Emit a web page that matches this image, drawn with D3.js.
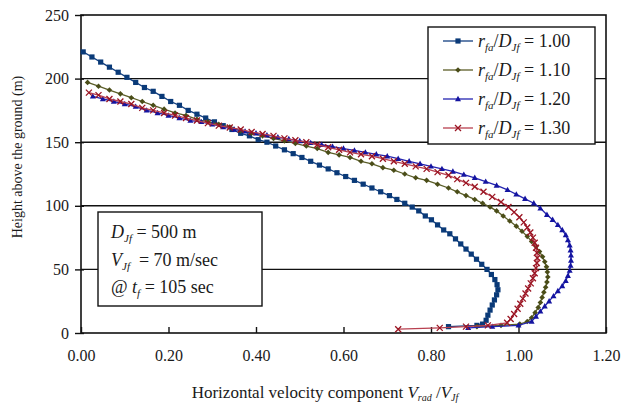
<!DOCTYPE html>
<html><head><meta charset="utf-8">
<script src="https://cdn.jsdelivr.net/npm/d3@7"></script>
<style>
html,body{margin:0;padding:0;background:#fff;}
svg text{font-family:"Liberation Serif","Times New Roman",serif;fill:#1a1a1a;}
</style></head>
<body><svg id="c" width="624" height="406"></svg>
<script>
// ---- data ----
const ratioLabels = ["1.00", "1.10", "1.20", "1.30"];
const s100 = [[0.005,221],[0.025,217],[0.045,213],[0.065,209],[0.085,205],[0.105,201],[0.125,197],[0.145,193],[0.165,190],[0.185,186],[0.205,182],[0.225,179],[0.245,175],[0.265,172],[0.285,169],[0.305,166],[0.325,163],[0.345,160],[0.365,157],[0.385,155],[0.405,152],[0.425,150],[0.445,147],[0.465,144],[0.485,141],[0.505,138],[0.525,135],[0.545,132],[0.565,129],[0.585,126],[0.605,123],[0.625,120],[0.645,117],[0.665,114],[0.685,111],[0.705,108],[0.722,105],[0.740,102],[0.757,99],[0.772,96],[0.787,92],[0.801,89],[0.815,85],[0.829,81],[0.843,78],[0.856,74],[0.868,70],[0.880,66],[0.892,62],[0.904,58],[0.916,54],[0.928,50],[0.938,46],[0.946,42],[0.951,38],[0.953,34],[0.950,30],[0.945,26],[0.940,22],[0.935,18],[0.930,14],[0.926,10],[0.918,7],[0.905,6],[0.84,5]];
const s110 = [[0.015,197],[0.04,194],[0.065,191],[0.09,188],[0.115,185],[0.14,182],[0.165,179],[0.19,176],[0.215,173],[0.24,171],[0.265,168],[0.29,166],[0.315,164],[0.34,162],[0.365,159],[0.39,157],[0.415,155],[0.44,153],[0.465,151],[0.49,149],[0.515,147],[0.54,145],[0.565,142],[0.59,140],[0.615,138],[0.64,135],[0.665,133],[0.69,130],[0.715,128],[0.74,125],[0.765,122],[0.79,120],[0.815,117],[0.84,114],[0.86,111],[0.88,108],[0.90,105],[0.918,102],[0.935,99],[0.95,96],[0.965,92],[0.98,88],[0.995,84],[1.008,80],[1.02,76],[1.03,72],[1.04,68],[1.048,64],[1.055,60],[1.06,56],[1.064,52],[1.066,48],[1.067,44],[1.065,40],[1.062,36],[1.058,32],[1.054,28],[1.05,24],[1.045,20],[1.038,16],[1.03,12],[1.02,9],[1.003,7],[0.96,6],[0.905,5]];
const s120 = [[0.027,186],[0.05,184],[0.075,182],[0.10,180],[0.125,178],[0.15,175],[0.175,173],[0.20,171],[0.225,169],[0.25,167],[0.275,166],[0.30,164],[0.325,162],[0.35,160],[0.375,158.5],[0.40,157],[0.425,155.5],[0.45,154],[0.475,152.5],[0.50,151],[0.525,149.5],[0.55,148],[0.575,146.5],[0.60,145],[0.625,143.5],[0.65,142],[0.675,140.5],[0.70,139],[0.725,137],[0.75,135],[0.775,133],[0.80,131],[0.825,129],[0.85,127],[0.875,124.5],[0.90,122],[0.925,119],[0.95,116],[0.975,112.5],[0.995,109],[1.015,105.5],[1.035,102],[1.05,98],[1.065,93],[1.078,89],[1.09,85],[1.10,81],[1.108,77],[1.113,73],[1.117,69],[1.119,65],[1.12,61],[1.12,57],[1.119,53],[1.117,49],[1.113,45],[1.108,41],[1.10,37],[1.09,33],[1.08,29],[1.07,25],[1.06,21],[1.05,17],[1.04,13],[1.03,9],[1.0,6],[0.94,5],[0.885,4]];
const s130 = [[0.018,189],[0.04,187],[0.065,184],[0.09,182],[0.115,180],[0.14,177],[0.165,175],[0.19,173],[0.215,171],[0.24,169],[0.265,167],[0.29,165],[0.315,163],[0.34,161.5],[0.365,160],[0.39,158],[0.415,156.5],[0.44,155],[0.465,153],[0.49,151.5],[0.515,150],[0.54,148],[0.565,146],[0.59,144],[0.615,142],[0.64,140.5],[0.665,139],[0.69,137],[0.715,135],[0.74,133],[0.765,131],[0.79,129],[0.815,126.5],[0.84,124],[0.86,121],[0.88,118],[0.90,115],[0.92,111],[0.94,107],[0.96,103],[0.977,99],[0.99,95],[1.002,91],[1.012,87],[1.02,83],[1.027,79],[1.033,75],[1.037,71],[1.04,67],[1.042,63],[1.043,59],[1.042,55],[1.04,51],[1.037,47],[1.033,43],[1.028,39],[1.022,35],[1.016,31],[1.01,27],[1.004,23],[0.998,19],[0.99,15],[0.982,11],[0.974,8],[0.93,6],[0.88,5],[0.82,4],[0.725,3]];
const xTicks = [0, 0.2, 0.4, 0.6, 0.8, 1.0, 1.2];
const yTicks = [0, 50, 100, 150, 200, 250];

const series = [
  {label: ratioLabels[0], data: s100, line: "#123f80", mark: "#0a3a78", shape: "square"},
  {label: ratioLabels[1], data: s110, line: "#5b5e28", mark: "#4a4d18", shape: "diamond"},
  {label: ratioLabels[2], data: s120, line: "#2424b0", mark: "#1414a0", shape: "triangle"},
  {label: ratioLabels[3], data: s130, line: "#b84050", mark: "#9a1422", shape: "cross"}
];

const svg = d3.select("#c");
const x = d3.scaleLinear().domain([0, 1.2]).range([81, 606]);
const y = d3.scaleLinear().domain([0, 250]).range([333, 15]);

// gridlines
svg.append("g").selectAll("line").data(yTicks.filter(d => d > 0 && d < 250)).join("line")
  .attr("x1", x(0)).attr("x2", x(1.2)).attr("y1", d => y(d)).attr("y2", d => y(d))
  .attr("stroke", "#111").attr("stroke-width", 1.4);

// frame
svg.append("rect").attr("x", x(0)).attr("y", y(250)).attr("width", x(1.2) - x(0)).attr("height", y(0) - y(250))
  .attr("fill", "none").attr("stroke", "#111").attr("stroke-width", 1.6);

// axes
const ya = svg.append("g").attr("transform", `translate(${x(0)},0)`)
  .call(d3.axisLeft(y).tickValues(yTicks).tickSize(7).tickPadding(5).tickFormat(d3.format("d")));
ya.select(".domain").remove();
ya.selectAll(".tick line").attr("stroke", "#111").attr("stroke-width", 1.4).attr("x2", 3).attr("x1", -6);
ya.selectAll("text").attr("font-size", 16).attr("fill", "#222").attr("x", -12);

const xa = svg.append("g").attr("transform", `translate(0,${y(0)})`)
  .call(d3.axisBottom(x).tickValues(xTicks).tickSize(-6).tickPadding(12).tickFormat(d3.format(".2f")));
xa.select(".domain").remove();
xa.selectAll(".tick line").attr("stroke", "#111").attr("stroke-width", 1.4);
xa.selectAll("text").attr("font-size", 16).attr("fill", "#222").attr("y", 17);

// series
const line = d3.line().x(d => x(d[0])).y(d => y(d[1]));
function marker(g, shape, color, px, py) {
  if (shape === "square") {
    g.append("rect").attr("x", px - 2.6).attr("y", py - 2.6).attr("width", 5.2).attr("height", 5.2).attr("fill", color);
  } else if (shape === "diamond") {
    g.append("path").attr("d", `M${px},${py-2.8}L${px+2.8},${py}L${px},${py+2.8}L${px-2.8},${py}Z`).attr("fill", color);
  } else if (shape === "triangle") {
    g.append("path").attr("d", `M${px},${py-3.2}L${px+3},${py+2.2}L${px-3},${py+2.2}Z`).attr("fill", color);
  } else {
    g.append("path").attr("d", `M${px-3},${py-3}L${px+3},${py+3}M${px-3},${py+3}L${px+3},${py-3}`)
      .attr("stroke", color).attr("stroke-width", 1.3).attr("fill", "none");
  }
}
series.forEach(s => {
  const g = svg.append("g");
  g.append("path").datum(s.data).attr("d", line).attr("fill", "none").attr("stroke", s.line).attr("stroke-width", 1.3);
  s.data.forEach(d => marker(g, s.shape, s.mark, x(d[0]), y(d[1])));
});

// legend
const lg = svg.append("g");
lg.append("rect").attr("x", 428).attr("y", 27).attr("width", 167).attr("height", 117)
  .attr("fill", "#fff").attr("stroke", "#111").attr("stroke-width", 1.4);
series.forEach((s, i) => {
  const ly = 41 + i * 29;
  lg.append("line").attr("x1", 443).attr("x2", 473).attr("y1", ly).attr("y2", ly).attr("stroke", s.line).attr("stroke-width", 1.3);
  marker(lg, s.shape, s.mark, 458, ly);
  const t = lg.append("text").attr("x", 478).attr("y", ly + 6).attr("font-size", 18);
  t.append("tspan").attr("font-style", "italic").text("r");
  t.append("tspan").attr("font-style", "italic").attr("font-size", 11).attr("dy", 4).text("fa");
  t.append("tspan").attr("dy", -4).text("/");
  t.append("tspan").attr("font-style", "italic").text("D");
  t.append("tspan").attr("font-style", "italic").attr("font-size", 11).attr("dy", 4).text("Jf");
  t.append("tspan").attr("dy", -4).text(" = " + s.label);
});

// annotation box
const ab = svg.append("g");
ab.append("rect").attr("x", 98).attr("y", 212).attr("width", 164).attr("height", 94)
  .attr("fill", "#fff").attr("stroke", "#111").attr("stroke-width", 1.4);
const annLines = [
  [["D", "i"], ["Jf", "s"], [" = 500 m", ""]],
  [["V", "i"], ["Jf", "s"], ["  = 70 m/sec", ""]],
  [["@ ", ""], ["t", "i"], ["f", "s"], [" = 105 sec", ""]]
];
annLines.forEach((parts, i) => {
  const t = ab.append("text").attr("x", 111).attr("y", 238 + i * 27.5).attr("font-size", 18).attr("xml:space", "preserve");
  let sub = false;
  parts.forEach(p => {
    const ts = t.append("tspan").text(p[0]);
    if (p[1] === "i") ts.attr("font-style", "italic");
    if (p[1] === "s") { ts.attr("font-style", "italic").attr("font-size", 11).attr("dy", 4); sub = true; }
    else if (sub) { ts.attr("dy", -4); sub = false; }
  });
});

// axis titles
const xt = svg.append("text").attr("x", 325).attr("y", 398).attr("text-anchor", "middle").attr("font-size", 17);
xt.append("tspan").text("Horizontal velocity component ");
xt.append("tspan").attr("font-style", "italic").text("V");
xt.append("tspan").attr("font-style", "italic").attr("font-size", 10).attr("dy", 3).text("rad");
xt.append("tspan").attr("dy", -3).text(" /");
xt.append("tspan").attr("font-style", "italic").text("V");
xt.append("tspan").attr("font-style", "italic").attr("font-size", 10).attr("dy", 3).text("Jf");

svg.append("text").attr("transform", "translate(22,157) rotate(-90)").attr("text-anchor", "middle")
  .attr("font-size", 14).text("Height above the ground (m)");
</script></body></html>
